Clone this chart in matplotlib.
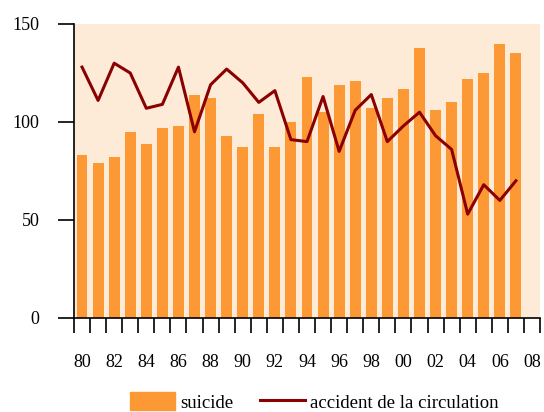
import matplotlib.pyplot as plt
from matplotlib.patches import Patch
from matplotlib.lines import Line2D

years = list(range(1980, 2008))
suicide = [83, 79, 82, 95, 89, 97, 98, 114, 112, 93, 87, 104, 87, 100, 123, 105,
           119, 121, 107, 112, 117, 138, 106, 110, 122, 125, 140, 135]
accident = [128, 111, 130, 125, 107, 109, 128, 95, 119, 127, 120, 110, 116, 91, 90, 113,
            85, 106, 114, 90, 98, 105, 93, 86, 53, 68, 60, 70]
tick_years = list(range(1980, 2009, 2))
tick_labels = ["%02d" % (y % 100) for y in tick_years]

plt.rcParams['font.family'] = ['Liberation Serif', 'DejaVu Serif']

fig = plt.figure(figsize=(5.44, 4.12), dpi=100)
ax = fig.add_axes([74/544, 94/412, 466/544, 294/412])
ax.set_facecolor('#FDEBD8')

bar_col = '#FD9935'
line_col = '#8B0000'

ax.bar(years, suicide, width=0.68, color=bar_col, zorder=2)
ax.plot(years, accident, color=line_col, lw=2.2, zorder=3)

ax.set_xlim(1979.5, 2008.5)
ax.set_ylim(0, 150)
ax.set_yticks([0, 50, 100, 150])
ax.set_xticks(tick_years)
ax.set_xticklabels(tick_labels)
ax.set_xticks([y - 0.5 for y in range(1980, 2010)], minor=True)

for s in ['top', 'right']:
    ax.spines[s].set_visible(False)
ax.spines['left'].set_linewidth(1.2)
ax.spines['bottom'].set_linewidth(1.2)

ax.tick_params(axis='y', length=11.5, width=1.2, labelsize=13, pad=13.5)
ax.tick_params(axis='x', which='major', length=0, labelsize=13, pad=26)
ax.tick_params(axis='x', which='minor', length=11, width=1.2, direction='out')

handles = [Patch(color=bar_col), Line2D([0], [0], color=line_col, lw=2.2)]
fig.legend(handles, ['suicide', 'accident de la circulation'], loc='lower center',
           bbox_to_anchor=(0.578, -0.04), ncol=2, frameon=False, fontsize=13.5,
           handlelength=2.4, handleheight=1.1, handletextpad=0.3, columnspacing=1.4)

fig.savefig('out.png', dpi=100)
